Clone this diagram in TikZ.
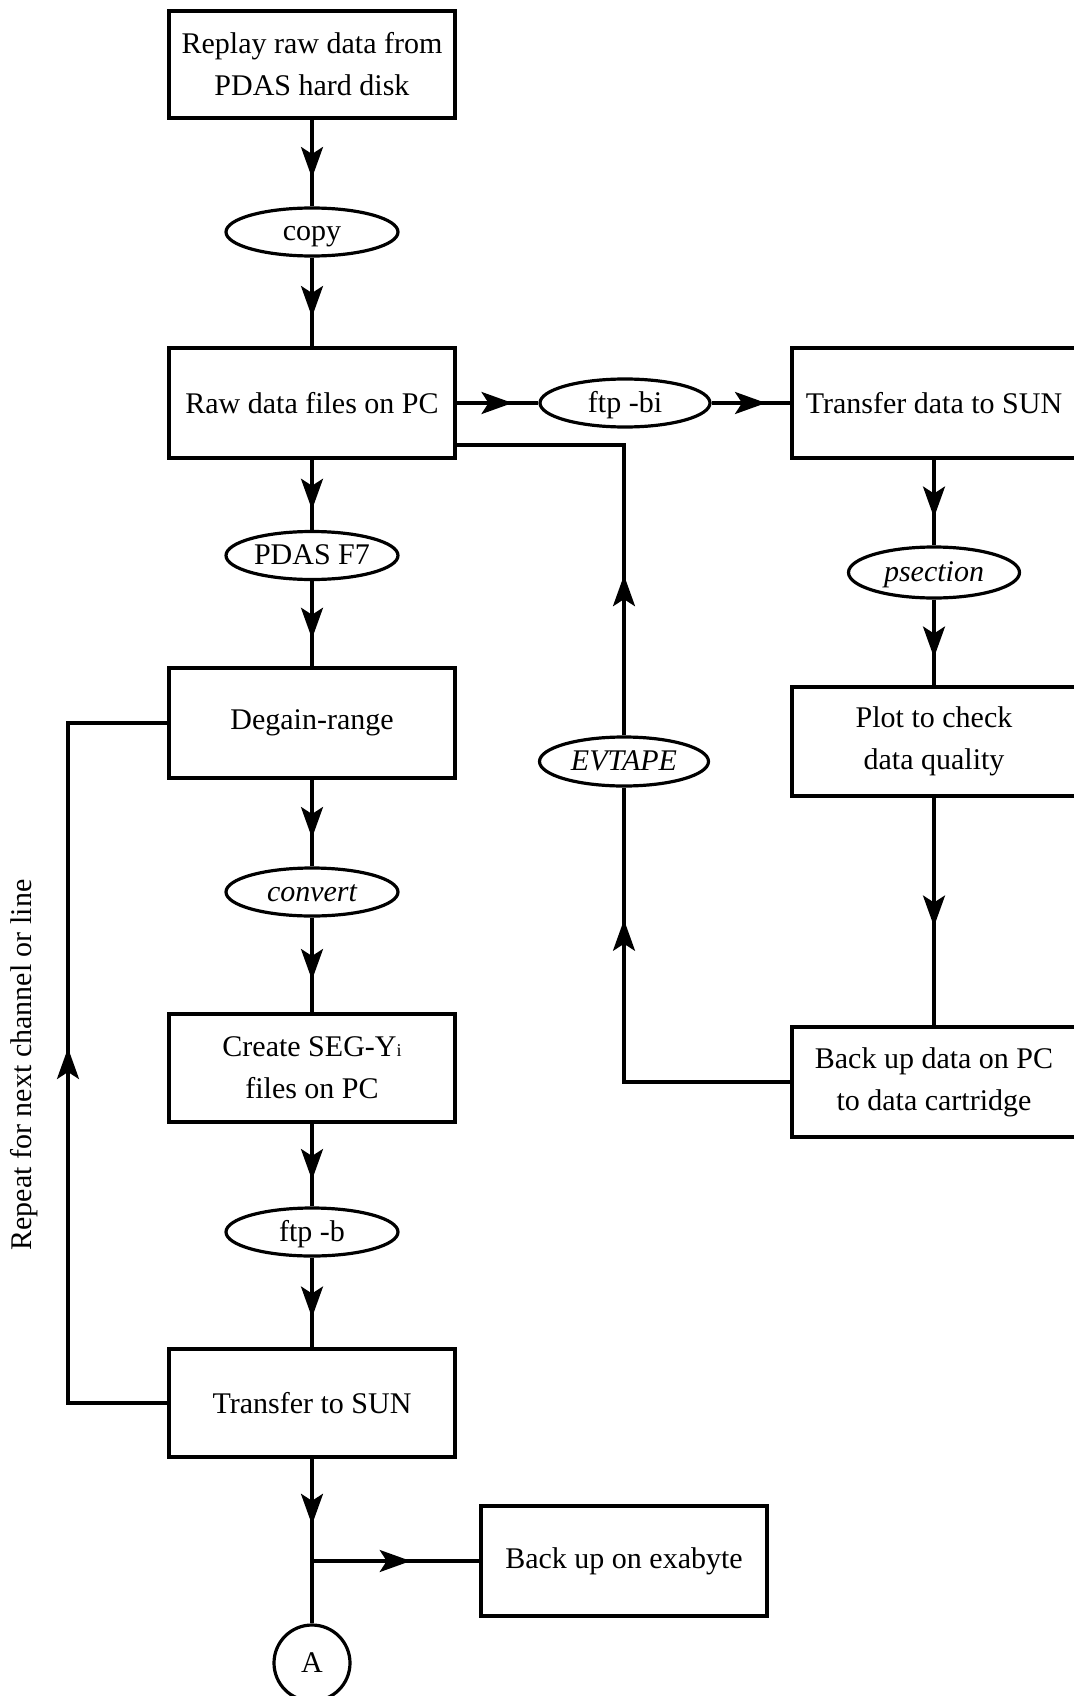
\documentclass[tikz,border=0pt]{standalone}
\usepackage{fontspec}
\setmainfont{Liberation Serif}
\usetikzlibrary{arrows.meta,shapes.geometric,decorations.markings}

\newcommand\chartfont{\fontsize{30}{42}\selectfont}

\begin{document}
\begin{tikzpicture}[x=1pt,y=-1pt,
  stepbox/.style={draw, rectangle, line width=3.2pt, minimum width=286pt,
    minimum height=109pt, inner sep=0pt, align=center, font=\chartfont},
  oval/.style={draw, ellipse, line width=3.2pt, minimum width=172pt,
    minimum height=48pt, inner sep=0pt, font=\chartfont,
    text height=20pt, text depth=2pt},
  wire/.style={draw, line width=3.2pt, line join=miter},
  flow/.style={wire, postaction={decorate},
    decoration={markings, mark=at position 0.5 with
      {\pgftransformxshift{15pt}\arrow{Stealth[length=31pt,width=22pt,inset=7pt]}}}}]

% page
\useasboundingbox[fill=white] (0,0) rectangle (1073,1696);

% left column
\node[stepbox, minimum height=107pt] (replay) at (312,64.5) {Replay raw data from\\PDAS hard disk};
\node[oval] (copy) at (312,232) {copy};
\node[stepbox, minimum height=110pt] (raw) at (312,403) {Raw data files on PC};
\node[oval] (pdasf) at (312,555.5) {PDAS F7};
\node[stepbox, minimum height=110pt] (degain) at (312,723) {Degain-range};
\node[oval] (convert) at (312,892) {\itshape convert};
\node[stepbox, minimum height=108pt] (segy) at (312,1068) {Create SEG-Y{\fontsize{18}{18}\selectfont i}\\files on PC};
\node[oval] (ftpb) at (312,1232) {ftp -b};
\node[stepbox, minimum height=108pt] (tosun) at (312,1403) {Transfer to SUN};
\node[draw, circle, line width=3.2pt, minimum size=76pt, inner sep=0pt, font=\chartfont] (conA) at (312,1663) {A};
\coordinate (split) at (312,1561);

% middle column
\node[oval, minimum width=170pt] (ftpbi) at (625,403) {ftp -bi};
\node[oval, minimum width=169pt, minimum height=49pt] (evtape) at (624,761.5) {\itshape EVTAPE};
\node[stepbox, minimum height=110pt] (exabyte) at (624,1561) {Back up on exabyte};

% right column
\node[stepbox, minimum width=284pt, minimum height=110pt] (xfer) at (934,403) {Transfer data to SUN};
\node[oval, minimum width=171pt, minimum height=51pt] (psection) at (934,572.5) {\itshape psection};
\node[stepbox, minimum width=284pt] (plot) at (934,741.5) {Plot to check\\data quality};
\node[stepbox, minimum width=284pt, minimum height=110pt] (cart) at (934,1082) {Back up data on PC\\to data cartridge};

% main flow
\draw[flow] (replay) -- (copy);
\draw[flow] (copy) -- (raw);
\draw[flow] (raw) -- (pdasf);
\draw[flow] (pdasf) -- (degain);
\draw[flow] (degain) -- (convert);
\draw[flow] (convert) -- (segy);
\draw[flow] (segy) -- (ftpb);
\draw[flow] (ftpb) -- (tosun);
\draw[flow] (tosun) -- (split);
\draw[wire] (split) -- (conA);
\draw[flow] (split) -- (exabyte);

\draw[flow] (raw) -- (ftpbi);
\draw[flow] (ftpbi) -- (xfer);
\draw[flow] (xfer) -- (psection);
\draw[flow] (psection) -- (plot);
\draw[flow] (plot) -- (cart);

% cartridge loop through EVTAPE back to the PC files
\coordinate (cartknee) at (624,1082);
\coordinate (tapeknee) at (624,445);
\draw[wire] (cart) -- (cartknee) -- (evtape);
\draw[flow] (cartknee) -- (evtape);
\draw[wire] (evtape) -- (tapeknee) -- (raw.east |- tapeknee);
\draw[flow] (evtape) -- (tapeknee);

% repeat loop
\coordinate (loopbot) at (68,1403);
\coordinate (looptop) at (68,723);
\draw[wire] (tosun) -- (loopbot) -- (looptop) -- (degain);
\draw[flow] (loopbot) -- (looptop);
\node[rotate=90, font=\chartfont] (looplabel) at (24,1065) {Repeat for next channel or line};

\end{tikzpicture}
\end{document}
